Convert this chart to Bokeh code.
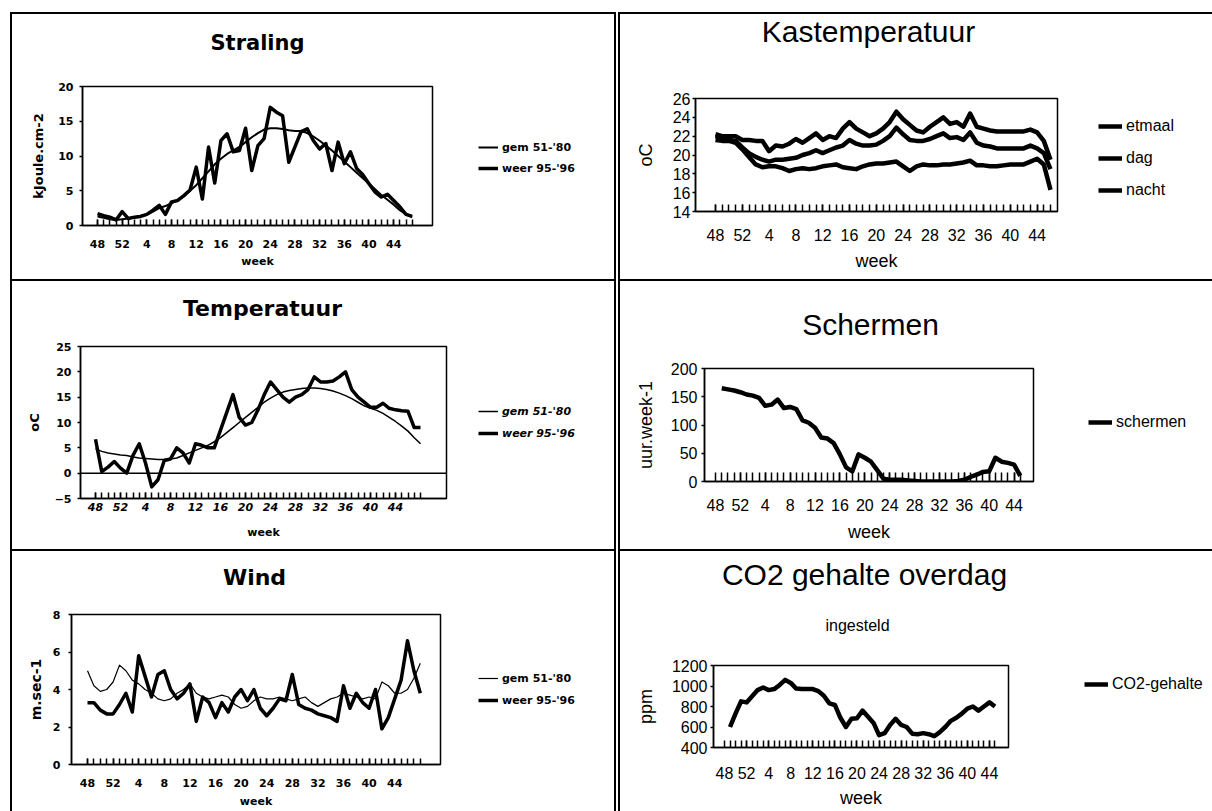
from bokeh.plotting import figure
from bokeh.models import FixedTicker, Span, Label, Legend, LegendItem, Spacer
from bokeh.layouts import row, column
from bokeh.embed import file_html
from bokeh.resources import INLINE

# ---------------- data ----------------
weeks = [48, 49, 50, 51, 52] + list(range(1, 49))
tick_idx = list(range(0, 49, 4))
tick_labels = {i: str(weeks[i]) for i in tick_idx}

straling_gem = [1.3, 1.1, 0.9, 0.8, 0.9, 1.0, 1.2, 1.4, 1.6, 2.0, 2.5, 2.8, 3.2, 3.7, 4.2,
                5.0, 5.8, 6.8, 7.8, 8.8, 9.6, 10.3, 10.8, 11.3, 12.0, 12.7, 13.3, 13.8, 14.0,
                14.0, 13.9, 13.7, 13.6, 13.6, 13.3, 12.8, 12.2, 11.5, 10.8, 10.0, 9.2, 8.4, 7.6,
                6.8, 6.0, 5.2, 4.4, 3.7, 3.0, 2.2, 1.6, 1.2]
straling_weer = [1.7, 1.4, 1.2, 0.8, 2.0, 1.0, 1.2, 1.3, 1.6, 2.2, 2.9, 1.6, 3.4, 3.6, 4.3,
                 5.1, 8.4, 3.8, 11.3, 6.1, 12.2, 13.2, 10.6, 10.8, 14.0, 7.9, 11.5, 12.5, 17.0,
                 16.3, 15.8, 9.1, 11.3, 13.5, 13.9, 12.2, 11.0, 11.8, 7.9, 12.0, 8.9, 10.6, 8.2,
                 7.3, 6.0, 4.8, 4.1, 4.5, 3.6, 2.7, 1.6, 1.3]

temp_gem = [4.8, 4.3, 4.0, 3.8, 3.6, 3.5, 3.2, 3.0, 2.9, 2.8, 2.7, 2.7, 2.8, 3.0, 3.5, 4.0,
            4.5, 5.0, 5.5, 6.2, 7.0, 8.0, 9.0, 10.0, 11.0, 12.0, 13.0, 14.0, 14.8, 15.5, 16.0,
            16.3, 16.5, 16.7, 16.8, 16.8, 16.7, 16.5, 16.2, 15.8, 15.3, 14.7, 14.0, 13.3, 12.8,
            12.4, 11.8, 11.0, 10.2, 9.3, 8.3, 7.0, 5.8]
temp_weer = [6.7, 0.3, 1.2, 2.3, 1.0, 0.0, 3.5, 5.8, 2.0, -2.7, -1.3, 2.5, 2.8, 5.0, 4.0, 2.0,
             5.8, 5.5, 5.0, 5.0, 8.5, 12.0, 15.5, 11.0, 9.5, 10.0, 12.5, 15.5, 18.0, 16.5, 15.0,
             14.0, 15.0, 15.5, 16.5, 19.0, 18.0, 18.0, 18.2, 19.0, 20.0, 16.5, 15.0, 14.0, 13.0,
             13.0, 13.8, 12.8, 12.5, 12.3, 12.2, 9.0, 9.0]

wind_gem = [5.0, 4.2, 3.9, 4.0, 4.4, 5.3, 5.0, 4.5, 4.3, 4.0, 3.8, 3.5, 3.4, 3.5, 3.8, 4.0,
            4.3, 3.8, 3.6, 3.5, 3.6, 3.7, 3.6, 3.2, 3.0, 3.1, 3.4, 3.6, 3.5, 3.5, 3.6, 3.5,
            3.4, 3.5, 3.6, 3.3, 3.1, 3.3, 3.5, 3.6, 3.8, 3.7, 3.6, 3.5, 3.6, 3.5, 4.4, 4.2,
            3.8, 3.8, 4.0, 4.6, 5.4]
wind_weer = [3.3, 3.3, 2.9, 2.7, 2.7, 3.2, 3.8, 2.8, 5.8, 4.7, 3.6, 4.8, 5.0, 4.0, 3.5, 3.8,
             4.3, 2.3, 3.6, 3.3, 2.5, 3.3, 2.8, 3.6, 4.0, 3.4, 4.0, 3.0, 2.6, 3.0, 3.5, 3.4,
             4.8, 3.2, 3.0, 2.9, 2.7, 2.6, 2.5, 2.3, 4.2, 3.0, 3.8, 3.3, 3.0, 4.0, 1.9, 2.5,
             3.5, 4.5, 6.6, 5.0, 3.8]

kas_etmaal = [22.0, 21.8, 21.6, 21.5, 20.8, 20.2, 19.8, 19.5, 19.3, 19.5, 19.5, 19.6, 19.7,
              20.0, 20.2, 20.5, 20.2, 20.5, 20.8, 21.0, 21.6, 21.2, 21.0, 21.0, 21.1, 21.5,
              22.0, 22.9, 22.2, 21.6, 21.5, 21.5, 21.7, 22.0, 22.3, 21.8, 21.9, 21.6, 22.4,
              21.3, 21.0, 20.9, 20.7, 20.7, 20.7, 20.7, 20.7, 21.0, 20.7, 20.2, 18.5]
kas_dag = [22.2, 22.0, 22.0, 22.0, 21.6, 21.6, 21.5, 21.5, 20.4, 21.0, 20.9, 21.2, 21.7, 21.3,
           21.8, 22.3, 21.6, 22.0, 21.8, 22.8, 23.5, 22.8, 22.4, 22.0, 22.3, 22.8, 23.5, 24.6,
           23.8, 23.2, 22.6, 22.4, 23.0, 23.5, 24.0, 23.3, 23.5, 23.0, 24.4, 23.0, 22.8, 22.6,
           22.5, 22.5, 22.5, 22.5, 22.5, 22.7, 22.4, 21.5, 19.5]
kas_nacht = [21.6, 21.5, 21.5, 21.3, 20.6, 19.8, 19.0, 18.7, 18.8, 18.8, 18.6, 18.3, 18.5,
             18.6, 18.5, 18.6, 18.8, 18.9, 19.0, 18.7, 18.6, 18.5, 18.8, 19.0, 19.1, 19.1,
             19.2, 19.3, 18.8, 18.3, 18.8, 19.0, 18.9, 18.9, 19.0, 19.0, 19.1, 19.2, 19.4,
             18.9, 18.9, 18.8, 18.8, 18.9, 19.0, 19.0, 19.0, 19.3, 19.6, 19.0, 16.3]

schermen_start = 1
schermen = [165, 163, 161, 158, 154, 152, 148, 134, 136, 145, 130, 132, 128, 108, 104, 95, 78,
            76, 68, 48, 25, 18, 48, 42, 35, 20, 5, 3, 3, 3, 2, 1, 0, 0, 0, 0, 0, 0, 1, 3, 8,
            12, 17, 18, 42, 35, 33, 30, 10]

co2_start = 1
co2 = [600, 730, 850, 840, 900, 960, 985, 960, 970, 1010, 1060, 1030, 975, 970, 970, 970,
       950, 905, 830, 815, 690, 600, 680, 685, 760, 700, 640, 520, 540, 620, 680, 620, 600,
       535, 530, 540, 530, 510, 550, 600, 660, 690, 730, 780, 800, 760, 800, 840, 800]

# ---------------- helpers ----------------
LF = "DejaVu Sans"
RF = "Liberation Sans"


def blank_fig(w, h):
    f = figure(width=w, height=h, x_range=(1000, 1001), y_range=(1000, 1001),
               output_backend="svg", toolbar_location=None, title=None, x_axis_location=None,
               y_axis_location=None, min_border_left=0, min_border_right=0, min_border_top=0,
               min_border_bottom=0)
    f.frame_align = False
    f.xgrid.visible = False
    f.ygrid.visible = False
    f.outline_line_color = None
    f.background_fill_color = "white"
    f.border_fill_color = "white"
    return f


class Panel:
    def __init__(self, W, H, px, py, Ht, frame, i0_px, step, yr):
        self.W, self.H, self.px, self.py, self.Ht = W, H, px, py, Ht
        l, t, r, b = frame
        self.frame = frame
        self.Wp = r - px + 6
        Hp = H - Ht
        top = py + Ht
        xr = ((l - i0_px) / step, (r - i0_px) / step)
        p = figure(width=self.Wp, height=Hp, x_range=xr, y_range=yr, output_backend="svg",
                   toolbar_location=None, title=None, min_border_left=l - px,
                   min_border_right=6, min_border_top=t - top, min_border_bottom=top + Hp - b)
        p.frame_align = False
        p.xgrid.visible = False
        p.ygrid.visible = False
        p.outline_line_color = "black"
        p.outline_line_width = 1.5
        p.background_fill_color = "white"
        p.border_fill_color = "white"
        self.p = p
        self.tf = blank_fig(W, Ht)
        self.lf = blank_fig(W - self.Wp, Hp)

    def text(self, x, y, text, font, size, style="normal"):
        # page coordinates -> title figure frame coordinates
        self.tf.add_layout(Label(x=x - self.px, y=self.py + self.Ht - y, x_units="screen",
                                 y_units="screen", text=text, text_align="center",
                                 text_baseline="middle", text_font=font,
                                 text_font_size=f"{size}px", text_font_style=style,
                                 text_color="black"))

    def legend(self, items, x, y_first, pitch, row_h, font, size, style, glyph_w, standoff):
        n = len(items)
        top = y_first - row_h / 2
        bottom = top + n * row_h + (n - 1) * (pitch - row_h)
        litems = []
        for lab, xv, yv, width in items:
            # legend key of the series drawn in the plot; the key figure shows only the key
            rr = self.lf.line(xv, yv, line_color="black", line_width=width)
            rr.visible = False
            litems.append(LegendItem(label=lab, renderers=[rr]))
        leg = Legend(items=litems, location=(x - (self.px + self.Wp), self.py + self.H - bottom),
                     orientation="vertical", border_line_color=None, background_fill_alpha=0,
                     inactive_fill_alpha=0, padding=0, margin=0, spacing=pitch - row_h,
                     glyph_width=glyph_w, glyph_height=row_h, label_height=row_h,
                     label_standoff=standoff, label_text_font=font,
                     label_text_font_size=f"{size}px", label_text_font_style=style,
                     label_text_color="black")
        self.lf.add_layout(leg)

    def layout(self):
        return column(self.tf, row(self.p, self.lf))


def style_axes(p, minor, yticks, font, fsize, fstyle, tick_in, xstand, xlab_stand, xlab_size,
               xlab_style, ylab, ylab_size, ylab_style, ystand, ylab_stand, xtick_style=None):
    xa = p.xaxis[0]
    xa.ticker = FixedTicker(ticks=tick_idx, minor_ticks=minor)
    xa.major_label_overrides = tick_labels
    xa.major_tick_in = tick_in
    xa.major_tick_out = 0
    xa.minor_tick_in = tick_in
    xa.minor_tick_out = 0
    xa.major_tick_line_width = 1.5
    xa.minor_tick_line_width = 1.5
    xa.major_tick_line_color = "black"
    xa.minor_tick_line_color = "black"
    xa.axis_line_width = 1.5
    xa.axis_line_color = "black"
    xa.major_label_text_font = font
    xa.major_label_text_font_size = f"{fsize}px"
    xa.major_label_text_font_style = xtick_style or fstyle
    xa.major_label_text_color = "black"
    xa.major_label_standoff = xstand
    xa.axis_label = "week"
    xa.axis_label_text_font = font
    xa.axis_label_text_font_size = f"{xlab_size}px"
    xa.axis_label_text_font_style = xlab_style
    xa.axis_label_text_color = "black"
    xa.axis_label_standoff = xlab_stand

    ya = p.yaxis[0]
    ya.ticker = FixedTicker(ticks=yticks)
    ya.major_tick_in = 0
    ya.major_tick_out = 3
    ya.minor_tick_in = 0
    ya.minor_tick_out = 0
    ya.major_tick_line_width = 1.5
    ya.major_tick_line_color = "black"
    ya.axis_line_width = 1.5
    ya.axis_line_color = "black"
    ya.major_label_text_font = font
    ya.major_label_text_font_size = f"{fsize}px"
    ya.major_label_text_font_style = fstyle
    ya.major_label_text_color = "black"
    ya.major_label_standoff = ystand
    ya.axis_label = ylab
    ya.axis_label_text_font = font
    ya.axis_label_text_font_size = f"{ylab_size}px"
    ya.axis_label_text_font_style = ylab_style
    ya.axis_label_text_color = "black"
    ya.axis_label_standoff = ylab_stand


def xs(series, start=0):
    return [start + k for k in range(len(series))]


# ---------------- Straling ----------------
P1 = Panel(602, 265, 12, 14, 60, (82, 86, 432, 225), 97, 6.17, (0, 20))
style_axes(P1.p, xs(straling_weer), [0, 5, 10, 15, 20], LF, 11, "bold", 6, 14, 4, 11, "bold",
           "kJoule.cm-2", 13, "bold", 6, 9)
P1.p.line(xs(straling_gem), straling_gem, line_color="black", line_width=2, line_join="round")
P1.p.line(xs(straling_weer), straling_weer, line_color="black", line_width=3.5, line_join="round")
P1.text(257, 42, "Straling", LF, 21, "bold")
P1.legend([("gem 51-'80", xs(straling_gem), straling_gem, 2),
           ("weer 95-'96", xs(straling_weer), straling_weer, 3.5)],
          478, 147, 21, 14, LF, 11, "bold", 20, 4)

# ---------------- Temperatuur ----------------
P2 = Panel(602, 268, 12, 281, 45, (80, 346, 446, 498), 95, 6.25, (-5, 25))
style_axes(P2.p, xs(temp_weer), [-5, 0, 5, 10, 15, 20, 25], LF, 11, "bold", 6, 4, 12, 11,
           "bold", "oC", 13, "bold", 6, 10, xtick_style="bold italic")
P2.p.add_layout(Span(location=0, dimension="width", line_color="black", line_width=1.5))
P2.p.line(xs(temp_gem), temp_gem, line_color="black", line_width=1.5, line_join="round")
P2.p.line(xs(temp_weer), temp_weer, line_color="black", line_width=3.5, line_join="round")
P2.text(262, 308, "Temperatuur", LF, 22, "bold")
P2.legend([("gem 51-'80", xs(temp_gem), temp_gem, 1.5),
           ("weer 95-'96", xs(temp_weer), temp_weer, 3.5)],
          478, 411, 22, 14, LF, 11, "bold italic", 20, 4)

# ---------------- Wind ----------------
P3 = Panel(602, 260, 12, 551, 45, (71, 614, 440, 764), 87, 6.4, (0, 8))
style_axes(P3.p, xs(wind_weer), [0, 2, 4, 6, 8], LF, 11, "bold", 6, 14, 5, 11, "bold",
           "m.sec-1", 14, "bold", 8, 6)
P3.p.line(xs(wind_gem), wind_gem, line_color="black", line_width=1.2, line_join="round")
P3.p.line(xs(wind_weer), wind_weer, line_color="black", line_width=3.5, line_join="round")
P3.text(254, 577, "Wind", LF, 22, "bold")
P3.legend([("gem 51-'80", xs(wind_gem), wind_gem, 1.2),
           ("weer 95-'96", xs(wind_weer), wind_weer, 3.5)],
          478, 678, 22, 14, LF, 11, "bold", 20, 4)

# ---------------- Kastemperatuur ----------------
P4 = Panel(592, 265, 620, 14, 45, (695, 98, 1057, 211), 715, 6.7, (14, 26))
style_axes(P4.p, xs(kas_dag), [14, 16, 18, 20, 22, 24, 26], RF, 16, "normal", 7, 17, 7, 18,
           "normal", "oC", 18, "normal", 2, 14)
P4.p.line(xs(kas_etmaal), kas_etmaal, line_color="black", line_width=4.5, line_join="round")
P4.p.line(xs(kas_dag), kas_dag, line_color="black", line_width=4.5, line_join="round")
P4.p.line(xs(kas_nacht), kas_nacht, line_color="black", line_width=4.5, line_join="round")
P4.text(868, 31, "Kastemperatuur", RF, 30)
P4.legend([("etmaal", xs(kas_etmaal), kas_etmaal, 4.5), ("dag", xs(kas_dag), kas_dag, 4.5),
           ("nacht", xs(kas_nacht), kas_nacht, 4.5)],
          1098, 126, 32, 20, RF, 16, "normal", 24, 4)

# ---------------- Schermen ----------------
P5 = Panel(592, 268, 620, 281, 60, (704, 368, 1033, 481), 715, 6.22, (0, 200))
style_axes(P5.p, xs(schermen, schermen_start), [0, 50, 100, 150, 200], RF, 16, "normal", 9, 17,
           8, 18, "normal", "uur.week-1", 18, "normal", 4, 12)
P5.p.line(xs(schermen, schermen_start), schermen, line_color="black", line_width=4.5,
          line_join="round")
P5.text(870, 324, "Schermen", RF, 30)
P5.legend([("schermen", xs(schermen, schermen_start), schermen, 4.5)],
          1088, 422, 20, 20, RF, 16, "normal", 24, 4)

# ---------------- CO2 ----------------
P6 = Panel(592, 260, 620, 551, 88, (713, 665, 1008, 747), 724, 5.52, (400, 1200))
style_axes(P6.p, xs(co2, co2_start), [400, 600, 800, 1000, 1200], RF, 16, "normal", 7, 19, 6,
           18, "normal", "ppm", 18, "normal", 3, 13)
P6.p.line(xs(co2, co2_start), co2, line_color="black", line_width=4.5, line_join="round")
P6.text(864, 574, "CO2 gehalte overdag", RF, 30)
P6.text(857, 625, "ingesteld", RF, 16)
P6.legend([("CO2-gehalte", xs(co2, co2_start), co2, 4.5)],
          1084, 684, 20, 20, RF, 16, "normal", 24, 4)


# ---------------- page layout ----------------
def black(w, h):
    return Spacer(width=w, height=h, styles={"background-color": "black"})


left_col = column(black(602, 2), P1.layout(), black(602, 2), P2.layout(), black(602, 2),
                  P3.layout())
right_col = column(black(592, 2), P4.layout(), black(592, 2), P5.layout(), black(592, 2),
                   P6.layout())
body = row(Spacer(width=10, height=799), black(2, 799), left_col, black(2, 799),
           Spacer(width=2, height=799), black(2, 799), right_col)
page = column(Spacer(width=1212, height=12), body)

open("out.html", "w").write(file_html(page, INLINE))
